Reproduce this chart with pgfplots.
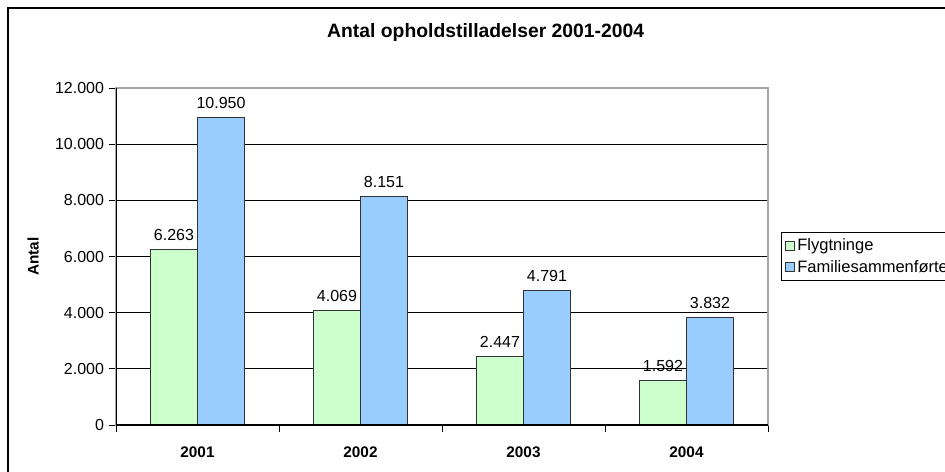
\documentclass[border=0pt]{standalone}
\usepackage{pgfplots}
\pgfplotsset{compat=1.18}
\usepackage{fontspec}
\setmainfont{Liberation Sans}

\definecolor{flygt}{HTML}{CCFFCC}
\definecolor{famil}{HTML}{99CCFF}
\definecolor{edge}{HTML}{333333}

% 1px = 0.75pt, picture is 945x471 px
\begin{document}
\begin{tikzpicture}
\clip (0,0) rectangle (708.75pt,353.25pt);
\useasboundingbox (0,0) rectangle (708.75pt,353.25pt);
\fill[white] (0,0) rectangle (708.75pt,353.25pt);
\draw[line width=1.2pt] (6pt,-10pt) -- (6pt,347.25pt) -- (720pt,347.25pt);

\begin{axis}[
  at={(87pt,34.5pt)}, anchor=south west,
  scale only axis,
  width=489pt, height=252.75pt,
  xmin=0.5, xmax=4.5,
  ymin=0, ymax=12000,
  ytick={0,2000,...,12000},
  scaled y ticks=false,
  /pgf/number format/.cd, fixed, 1000 sep={.}, assume math mode=true,
  /pgfplots/.cd,
  xtick={1,2,3,4},
  xticklabels={2001,2002,2003,2004},
  minor xtick={0.5,1.5,2.5,3.5,4.5},
  major x tick style={draw=none},
  minor x tick style={black, line width=0.6pt},
  y tick style={black, line width=0.6pt},
  tick align=outside,
  tick pos=left,
  major tick length=5.5pt,
  minor tick length=5.5pt,
  ymajorgrids,
  grid style={black, line width=0.6pt},
  axis line style={gray!70, line width=0.8pt},
  tick label style={font=\fontsize{12}{14}\selectfont},
  x tick label style={font=\fontsize{11.5}{13}\selectfont\bfseries, yshift=-7pt},
  ylabel={Antal},
  ylabel style={at={(axis description cs:-0.127,0.5)}, anchor=center,
    font=\fontsize{11.5}{13}\selectfont\bfseries},
  title={Antal opholdstilladelser 2001-2004},
  title style={at={(axis description cs:0.567,1.1424)}, anchor=center,
    font=\fontsize{14.5}{16}\selectfont\bfseries},
  ybar,
  bar width=0.2883,
  nodes near coords,
  every node near coord/.append style={font=\fontsize{12}{14}\selectfont, yshift=3pt},
  legend style={at={(axis description cs:1,0.5)}, anchor=west, xshift=9.75pt,
    draw=black, line width=0.6pt, font=\fontsize{12.4}{15}\selectfont,
    row sep=1.5pt, inner sep=2.5pt},
  legend cell align=left,
  legend image code/.code={\draw[#1, line width=0.6pt] (0pt,-3.4pt) rectangle (6.8pt,3.4pt);},
]
\addplot[fill=flygt, draw=edge, line width=0.7pt, bar shift=-0.14415]
  coordinates {(1,6263) (2,4069) (3,2447) (4,1592)};
\addplot[fill=famil, draw=edge, line width=0.7pt, bar shift=0.14415]
  coordinates {(1,10950) (2,8151) (3,4791) (4,3832)};
\legend{Flygtninge, Familiesammenførte}
\draw[black, line width=0.8pt] (rel axis cs:0,1) -- (rel axis cs:0,0) -- (rel axis cs:1,0);
\end{axis}
\end{tikzpicture}
\end{document}
